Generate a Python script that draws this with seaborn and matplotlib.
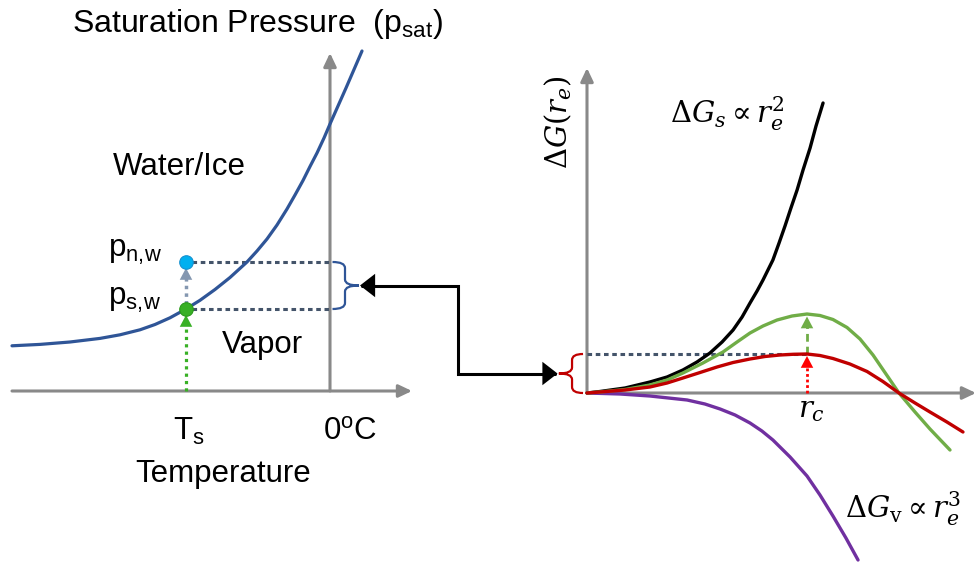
import matplotlib
matplotlib.use("Agg")
import matplotlib.pyplot as plt
from matplotlib.path import Path
from matplotlib.patches import PathPatch, FancyArrowPatch
import seaborn as sns

# ---- saturation pressure curve (temperature, pressure; arbitrary units, 0 = 0 degC)
sat_temp = [-31.8, -29.0, -26.0, -23.0, -21.0, -19.0, -17.5, -16.0, -14.4, -13.0,
            -11.5, -10.0, -8.3, -7.3, -6.3, -5.3, -4.3, -3.5, -2.7, -2.0, -1.3,
            -0.6, 0.0, 0.8, 1.6, 2.4, 3.2]
sat_pressure = [4.52, 4.66, 4.9, 5.26, 5.62, 6.12, 6.65, 7.32, 8.2, 9.07,
                10.15, 11.35, 12.9, 14.0, 15.2, 16.6, 18.2, 19.6, 21.05, 22.45, 23.8,
                25.3, 26.7, 28.5, 30.3, 32.15, 34.0]
T_s = -14.4       # supercooled temperature
p_sw = 8.2        # saturation pressure over water at T_s
p_nw = 12.9       # nucleation pressure at T_s

# ---- free energy of an embryo vs radius (r_c = 1)
r_surface = [0.0, 0.059, 0.173, 0.286, 0.364, 0.436, 0.500, 0.559, 0.614, 0.664,
             0.705, 0.741, 0.773, 0.800, 0.845, 0.873, 0.900, 0.927, 0.955, 0.982,
             1.014, 1.041, 1.073]
dG_surface = [0.0, 0.15, 0.5, 1.1, 1.6, 2.3, 3.1, 4.0, 5.1, 6.3,
              7.6, 9.0, 10.2, 11.3, 13.3, 15.0, 16.7, 18.5, 20.3, 22.3,
              24.5, 26.7, 29.0]

r_volume = [0.0, 0.150, 0.286, 0.455, 0.536, 0.605, 0.673, 0.741, 0.795, 0.845,
            0.923, 1.0, 1.059, 1.118, 1.177, 1.232]
dG_volume = [0.0, -0.1, -0.3, -0.7, -1.1, -1.6, -2.2, -3.0, -3.8, -4.7,
             -6.4, -8.3, -10.2, -12.3, -14.5, -16.7]

r_total_hi = [0.0, 0.059, 0.173, 0.286, 0.364, 0.436, 0.527, 0.618, 0.682, 0.741,
              0.800, 0.864, 0.932, 1.0, 1.059, 1.118, 1.182, 1.241, 1.300, 1.359,
              1.418, 1.491, 1.559, 1.650]
dG_total_hi = [0.0, 0.1, 0.35, 0.8, 1.3, 2.0, 3.0, 4.1, 5.1, 6.0,
               6.7, 7.3, 7.7, 7.9, 7.75, 7.35, 6.55, 5.4, 3.8, 1.9,
               0.0, -1.9, -3.6, -5.7]

r_total_lo = [0.0, 0.059, 0.173, 0.286, 0.364, 0.436, 0.514, 0.591, 0.664, 0.741,
              0.809, 0.877, 0.936, 1.0, 1.059, 1.118, 1.195, 1.273, 1.345, 1.418,
              1.491, 1.559, 1.636, 1.709]
dG_total_lo = [0.0, 0.1, 0.3, 0.6, 1.0, 1.5, 2.05, 2.6, 3.05, 3.4,
               3.65, 3.8, 3.87, 3.9, 3.75, 3.45, 2.9, 2.15, 1.15, 0.0,
               -1.0, -1.9, -2.9, -3.9]

r_c = 1.0
dG_c_lo = 3.9
dG_c_hi = 7.9

# ---- colours
GRAY = "#898989"
SLATE = "#44546a"
BLUE = "#2f5597"
GREEN_L = "#70ad47"
RED = "#c00000"
PURPLE = "#7030a0"
DOT_GREEN = "#38b025"
DOT_BLUE = "#00b0f0"
ARROW_SLATE = "#8497b0"

sns.set_theme(style="white")
plt.rcParams["font.family"] = ["Liberation Sans", "DejaVu Sans"]
plt.rcParams["mathtext.fontset"] = "custom"
plt.rcParams["mathtext.rm"] = "Liberation Sans"
plt.rcParams["mathtext.it"] = "Liberation Sans:italic"
plt.rcParams["mathtext.bf"] = "Liberation Sans:bold"

W, H = 977, 565
fig = plt.figure(figsize=(W / 100, H / 100), dpi=100)
fig.patch.set_facecolor("white")
axL = fig.add_axes([0, 165 / H, 420 / W, 360 / H])
axR = fig.add_axes([540 / W, 0, 437 / W, 515 / H])
axL.set_xlim(-33, 9)
axL.set_ylim(-0.9, 35.1)
axR.set_xlim(-47 / 220, 390 / 220)
axR.set_ylim(-17.2, 34.3)
for ax in (axL, axR):
    ax.set_axis_off()


def axis_arrow(ax, start, end):
    ax.annotate("", xy=end, xytext=start, annotation_clip=False, zorder=1,
                arrowprops=dict(arrowstyle="-|>,head_length=0.8,head_width=0.38",
                                mutation_scale=10, color=GRAY, lw=2.2,
                                shrinkA=0, shrinkB=0))


def head(ax, tip, base, color):
    ax.annotate("", xy=tip, xytext=base, annotation_clip=False, zorder=4,
                arrowprops=dict(arrowstyle="-|>,head_length=0.85,head_width=0.45",
                                mutation_scale=10, fc=color, ec=color, lw=0,
                                shrinkA=0, shrinkB=0))


def brace(ax, x_end, x_mid, x_tip, y_top, y_bot, ry, color):
    y_mid = (y_top + y_bot) / 2
    verts = [(x_end, y_top), (x_mid, y_top), (x_mid, y_top - ry),
             (x_mid, y_mid + ry), (x_mid, y_mid), (x_tip, y_mid),
             (x_mid, y_mid), (x_mid, y_mid - ry),
             (x_mid, y_bot + ry), (x_mid, y_bot), (x_end, y_bot)]
    codes = [Path.MOVETO, Path.CURVE3, Path.CURVE3,
             Path.LINETO, Path.CURVE3, Path.CURVE3,
             Path.CURVE3, Path.CURVE3,
             Path.LINETO, Path.CURVE3, Path.CURVE3]
    ax.add_patch(PathPatch(Path(verts, codes), fc="none", ec=color, lw=1.6,
                           clip_on=False, zorder=3))


# ================= left panel: saturation pressure =================
axis_arrow(axL, (-31.8, 0), (8.2, 0))
axis_arrow(axL, (0, 0), (0, 33.8))

sns.lineplot(x=sat_temp, y=sat_pressure, ax=axL, color=BLUE, linewidth=2.3,
             sort=False, estimator=None, zorder=3)

# guide lines from the two state points
dots = dict(lw=2.2, dashes=(1.5, 1.2), color=SLATE, zorder=2)
axL.plot([T_s + 0.6, 0], [p_nw, p_nw], **dots)
axL.plot([T_s + 0.6, 0], [p_sw, p_sw], **dots)
axL.plot([T_s, T_s], [0, p_sw - 1.5], lw=2.3, dashes=(1.0, 1.3), color=DOT_GREEN, zorder=2)
head(axL, (T_s, p_sw - 0.6), (T_s, 0), DOT_GREEN)
axL.plot([T_s, T_s], [p_sw + 0.5, p_nw - 1.5], lw=2.5, dashes=(1.0, 1.2),
         color=ARROW_SLATE, zorder=2)
head(axL, (T_s, p_nw - 0.6), (T_s, p_sw), ARROW_SLATE)

sns.scatterplot(x=[T_s], y=[p_nw], ax=axL, s=95, color=DOT_BLUE,
                edgecolor="#1591d0", linewidth=0.8, zorder=5)
sns.scatterplot(x=[T_s], y=[p_sw], ax=axL, s=95, color=DOT_GREEN,
                edgecolor="#2a9a1a", linewidth=0.8, zorder=5)

brace(axL, 0.25, 1.5, 2.9, p_nw, p_sw, 0.6, BLUE)

txt = dict(fontsize=22.5, color="black", ha="left", va="baseline")
axL.text(-25.8, 35.9, r"Saturation Pressure  (p$_\mathrm{sat}$)", **{**txt, "fontsize": 23})
axL.text(-21.7, 21.6, "Water/Ice", **txt)
axL.text(-22.2, 13.4, r"p$_\mathrm{n,\!w}$", **txt)
axL.text(-22.2, 8.6, r"p$_\mathrm{s,\!w}$", **txt)
axL.text(-10.8, 3.8, "Vapor", **txt)
axL.text(-15.7, -4.9, r"T$_\mathrm{s}$", **txt)
axL.text(-0.7, -4.9, r"0$^\mathrm{o}$C", **txt)
axL.text(-19.5, -9.1, "Temperature", **txt)

# ================= right panel: free energy =================
axis_arrow(axR, (0, 0), (1.768, 0))
axis_arrow(axR, (0, 0), (0, 32.5))

curve = dict(ax=axR, linewidth=2.4, sort=False, estimator=None, zorder=3)
sns.lineplot(x=r_surface, y=dG_surface, color="black", **curve)
sns.lineplot(x=r_volume, y=dG_volume, color=PURPLE, **curve)
sns.lineplot(x=r_total_hi, y=dG_total_hi, color=GREEN_L, **curve)
sns.lineplot(x=r_total_lo, y=dG_total_lo, color=RED, **curve)

axR.plot([0, r_c], [dG_c_lo, dG_c_lo], **dots)
axR.plot([r_c, r_c], [0, dG_c_lo - 1.3], lw=2.0, dashes=(1.0, 1.0), color="#ff0000", zorder=2)
head(axR, (r_c, dG_c_lo - 0.2), (r_c, 0), "#ff0000")
axR.plot([r_c, r_c], [dG_c_lo, dG_c_hi - 1.3], lw=2.0, dashes=(2.8, 1.8), color=GREEN_L, zorder=2)
head(axR, (r_c, dG_c_hi - 0.25), (r_c, dG_c_lo), GREEN_L)

brace(axR, -0.018, -0.068, -0.128, dG_c_lo, 0.0, 0.6, RED)

mtxt = dict(fontsize=21, color="black", math_fontfamily="dejavuserif")
axR.text(-0.132, 27.1, r"$\Delta G(r_e)$", rotation=90, ha="center", va="center", **mtxt)
axR.text(0.377, 27.0, r"$\Delta G_s \propto r_e^2$", ha="left", va="baseline", **mtxt)
axR.text(1.02, -2.4, r"$r_c$", ha="center", va="baseline", **mtxt)
axR.text(1.173, -12.5, r"$\Delta G_\mathrm{v} \propto r_e^3$", ha="left", va="baseline", **mtxt)

# ================= connector between the two braces =================
y_left = (p_nw + p_sw) / 2
tip_left = (3.0, y_left)
tip_right = axL.transData.inverted().transform(
    axR.transData.transform((-0.134, dG_c_lo / 2)))
x_corner = 12.8
conn = Path([tip_left, (x_corner, y_left), (x_corner, tip_right[1]), tuple(tip_right)])
arrow = FancyArrowPatch(path=conn, arrowstyle="<|-|>,head_length=0.8,head_width=0.62",
                        mutation_scale=10, color="black", lw=2.2, joinstyle="miter",
                        clip_on=False, zorder=4)
axL.add_patch(arrow)

fig.savefig("out.png", dpi=100, facecolor="white")
